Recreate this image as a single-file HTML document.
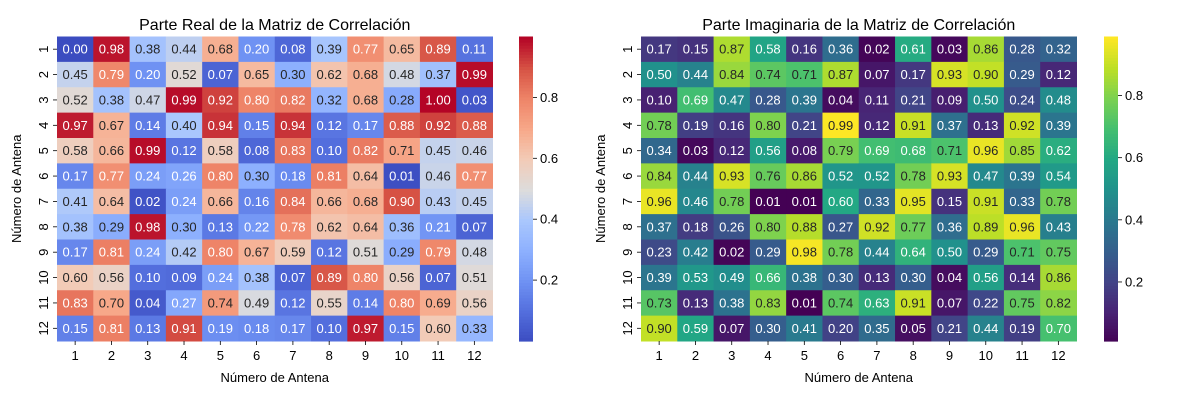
<!DOCTYPE html>
<html><head><meta charset="utf-8"><style>
body{margin:0;background:#fff}
svg{font-family:"Liberation Sans",sans-serif;display:block}
</style></head><body>
<svg id="chart" width="1200" height="400" xmlns="http://www.w3.org/2000/svg"></svg>
<script>
const rowLabels=["1","2","3","4","5","6","7","8","9","10","11","12"];
const colLabels=["1","2","3","4","5","6","7","8","9","10","11","12"];
const cbTicks=[0.2,0.4,0.6,0.8];
const realValues=[
[0.00,0.98,0.38,0.44,0.68,0.20,0.08,0.39,0.77,0.65,0.89,0.11],
[0.45,0.79,0.20,0.52,0.07,0.65,0.30,0.62,0.68,0.48,0.37,0.99],
[0.52,0.38,0.47,0.99,0.92,0.80,0.82,0.32,0.68,0.28,1.00,0.03],
[0.97,0.67,0.14,0.40,0.94,0.15,0.94,0.12,0.17,0.88,0.92,0.88],
[0.58,0.66,0.99,0.12,0.58,0.08,0.83,0.10,0.82,0.71,0.45,0.46],
[0.17,0.77,0.24,0.26,0.80,0.30,0.18,0.81,0.64,0.01,0.46,0.77],
[0.41,0.64,0.02,0.24,0.66,0.16,0.84,0.66,0.68,0.90,0.43,0.45],
[0.38,0.29,0.98,0.30,0.13,0.22,0.78,0.62,0.64,0.36,0.21,0.07],
[0.17,0.81,0.24,0.42,0.80,0.67,0.59,0.12,0.51,0.29,0.79,0.48],
[0.60,0.56,0.10,0.09,0.24,0.38,0.07,0.89,0.80,0.56,0.07,0.51],
[0.83,0.70,0.04,0.27,0.74,0.49,0.12,0.55,0.14,0.80,0.69,0.56],
[0.15,0.81,0.13,0.91,0.19,0.18,0.17,0.10,0.97,0.15,0.60,0.33]];
const imagValues=[
[0.17,0.15,0.87,0.58,0.16,0.36,0.02,0.61,0.03,0.86,0.28,0.32],
[0.50,0.44,0.84,0.74,0.71,0.87,0.07,0.17,0.93,0.90,0.29,0.12],
[0.10,0.69,0.47,0.28,0.39,0.04,0.11,0.21,0.09,0.50,0.24,0.48],
[0.78,0.19,0.16,0.80,0.21,0.99,0.12,0.91,0.37,0.13,0.92,0.39],
[0.34,0.03,0.12,0.56,0.08,0.79,0.69,0.68,0.71,0.96,0.85,0.62],
[0.84,0.44,0.93,0.76,0.86,0.52,0.52,0.78,0.93,0.47,0.39,0.54],
[0.96,0.46,0.78,0.01,0.01,0.60,0.33,0.95,0.15,0.91,0.33,0.78],
[0.37,0.18,0.26,0.80,0.88,0.27,0.92,0.77,0.36,0.89,0.96,0.43],
[0.23,0.42,0.02,0.29,0.98,0.78,0.44,0.64,0.50,0.29,0.71,0.75],
[0.39,0.53,0.49,0.66,0.38,0.30,0.13,0.30,0.04,0.56,0.14,0.86],
[0.73,0.13,0.38,0.83,0.01,0.74,0.63,0.91,0.07,0.22,0.75,0.82],
[0.90,0.59,0.07,0.30,0.41,0.20,0.35,0.05,0.21,0.44,0.19,0.70]];

const coolwarm=["#3b4cc0","#536edd","#6f92f3","#8db0fe","#aac7fd","#dddcdc","#f2cbb7","#f7a889","#ee8468","#d65244","#b40426"];
const viridis=["#440154","#482475","#414487","#355f8d","#2a788e","#21918c","#22a884","#44bf70","#7ad151","#bddf26","#fde725"];
function hex(h){return[1,3,5].map(i=>parseInt(h.substr(i,2),16));}
function cmap(stops,t){t=Math.max(0,Math.min(1,t));const p=t*(stops.length-1);const i=Math.min(Math.floor(p),stops.length-2);const f=p-i;const a=hex(stops[i]),b=hex(stops[i+1]);return a.map((v,k)=>Math.round(v+(b[k]-v)*f));}
function relLum(c){const l=c.map(v=>{v/=255;return v<=0.03928?v/12.92:Math.pow((v+0.055)/1.055,2.4);});return 0.2126*l[0]+0.7152*l[1]+0.0722*l[2];}
const NS="http://www.w3.org/2000/svg";
const svg=document.getElementById('chart');
function el(tag,attrs,parent){const e=document.createElementNS(NS,tag);for(const k in attrs)e.setAttribute(k,attrs[k]);(parent||svg).appendChild(e);return e;}
function txt(s,attrs,parent){const e=el('text',attrs,parent);e.textContent=s;return e;}

function heatmap(values,stops,left,cbX,title,name){
  const g=el('g',{});
  
  
  const top=36.5,W=435.5,H=304.5,n=12,cw=W/n,ch=H/n;
  const flat=values.flat();const vmin=Math.min(...flat),vmax=Math.max(...flat);
  const xs=j=>left+j*cw, ys=i=>top+i*ch;
  values.forEach((row,i)=>row.forEach((v,j)=>{
    const c=cmap(stops,(v-vmin)/(vmax-vmin));
    const r=el('rect',{x:xs(j),y:ys(i),width:cw+0.5,height:ch+0.5,fill:`rgb(${c})`},g);
    
    
    const lum=relLum(c);
    const t=txt(v.toFixed(2),{x:xs(j)+cw/2,y:ys(i)+ch/2+4.5,'text-anchor':'middle','font-size':13,fill:lum>0.408?'#262626':'#fff'},g);
    
    
  }));
  colLabels.forEach((l,j)=>{
    const x=xs(j)+cw/2;
    el('line',{x1:x,x2:x,y1:top+H,y2:top+H+4,stroke:'#000','stroke-width':0.8},g);
    const t=txt(l,{x:x,y:top+H+19,'text-anchor':'middle','font-size':13},g);
    
    
  });
  rowLabels.forEach((l,i)=>{
    const y=ys(i)+ch/2;
    el('line',{x1:left-4,x2:left,y1:y,y2:y,stroke:'#000','stroke-width':0.8},g);
    const t=txt(l,{x:left-9,y:y,'text-anchor':'middle','font-size':13,transform:`rotate(-90 ${left-9} ${y})`},g);
    
    
  });
  const tt=txt(title,{x:left+W/2,y:30,'text-anchor':'middle','font-size':16},g);
  
  
  const xl=txt('Número de Antena',{x:left+W/2,y:382,'text-anchor':'middle','font-size':13},g);
  
  
  const yx=left-36,yy=top+H/2;
  const yl=txt('Número de Antena',{x:yx,y:yy,'text-anchor':'middle','font-size':13,transform:`rotate(-90 ${yx} ${yy})`},g);
  
  
  const cb=el('g',{},g);
  
  
  const cbW=14,steps=100;
  for(let k=0;k<steps;k++){
    const c=cmap(stops,1-k/steps);
    el('rect',{x:cbX,y:top+k*H/steps,width:cbW,height:H/steps+0.6,fill:`rgb(${c})`},cb);
  }
  const cy=v=>top+H-(v-vmin)/(vmax-vmin)*H;
  cbTicks.forEach(v=>{
    const y=cy(v);
    el('line',{x1:cbX+cbW,x2:cbX+cbW+4,y1:y,y2:y,stroke:'#000','stroke-width':0.8},cb);
    const t=txt(v.toFixed(1),{x:cbX+cbW+7,y:y+4.5,'font-size':13},cb);
    
    
  });
}
heatmap(realValues,coolwarm,57,519,'Parte Real de la Matriz de Correlación','real-part-heatmap');
heatmap(imagValues,viridis,641,1104,'Parte Imaginaria de la Matriz de Correlación','imaginary-part-heatmap');
</script>
</body></html>
